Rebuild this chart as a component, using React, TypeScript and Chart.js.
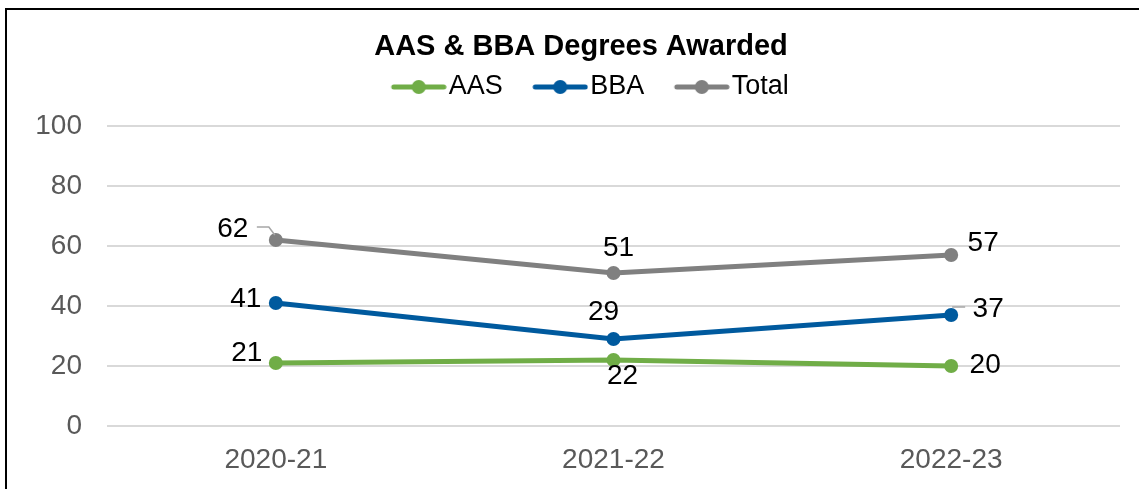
import React, { useEffect, useRef } from "react";
import { Chart, registerables } from "chart.js";

Chart.register(...registerables);

const categories = ["2020-21", "2021-22", "2022-23"];
const aasValues = [21, 22, 20];
const bbaValues = [41, 29, 37];
const totalValues = [62, 51, 57];
const seriesNames = ["AAS", "BBA", "Total"];

const FONT = "'Liberation Sans', Arial, Helvetica, sans-serif";
const COLORS = ["#70AD47", "#005A9E", "#808080"];

// label offsets (dx, dy) relative to each point, per series
const labelOffsets: number[][][] = [
  [[-29, -10], [9, 16], [34, -1]],
  [[-30, -4], [-10, -27], [37, -6]],
  [[-43, -11], [5, -25], [32, -12]],
];
// leader lines: [seriesIndex, pointIndex, relative polyline]
const leaders: [number, number, number[][]][] = [
  [2, 0, [[-19, -13], [-7, -13], [-1, -5]]],
  [1, 2, [[1, -8], [14, -8]]],
];

const LEGEND_BOX = 74;

function makeMarker(color: string) {
  const W = LEGEND_BOX + 23;
  const H = 18;
  const c = document.createElement("canvas");
  c.width = W;
  c.height = H;
  const ctx = c.getContext("2d")!;
  ctx.strokeStyle = color;
  ctx.lineWidth = 5;
  ctx.lineCap = "round";
  ctx.beginPath();
  ctx.moveTo(W - 53, H / 2);
  ctx.lineTo(W - 3, H / 2);
  ctx.stroke();
  ctx.fillStyle = color;
  ctx.beginPath();
  ctx.arc(W - 28, H / 2, 7, 0, Math.PI * 2);
  ctx.fill();
  return c;
}

const labelPlugin = {
  id: "pointLabels",
  afterLayout(chart: any) {
    const t = chart.titleBlock;
    if (t) {
      t.left += 6;
      t.right += 6;
    }
  },
  afterDatasetsDraw(chart: any) {
    const ctx = chart.ctx;
    ctx.save();
    ctx.strokeStyle = "#A6A6A6";
    ctx.lineWidth = 1.5;
    leaders.forEach(([si, pi, pts]) => {
      const el = chart.getDatasetMeta(si).data[pi];
      if (!el) return;
      ctx.beginPath();
      pts.forEach((p, k) => {
        if (k === 0) ctx.moveTo(el.x + p[0], el.y + p[1]);
        else ctx.lineTo(el.x + p[0], el.y + p[1]);
      });
      ctx.stroke();
    });
    ctx.font = `28px ${FONT}`;
    ctx.fillStyle = "#000000";
    ctx.textAlign = "center";
    ctx.textBaseline = "middle";
    chart.data.datasets.forEach((ds: any, si: number) => {
      const meta = chart.getDatasetMeta(si);
      meta.data.forEach((el: any, pi: number) => {
        const off = labelOffsets[si][pi];
        ctx.fillText(String(ds.data[pi]), el.x + off[0], el.y + off[1]);
      });
    });
    ctx.restore();
  },
};

export default function App() {
  const ref = useRef<HTMLCanvasElement | null>(null);

  useEffect(() => {
    if (!ref.current) return;
    const markers = COLORS.map((c) => makeMarker(c));
    const values = [aasValues, bbaValues, totalValues];
    const chart = new Chart(ref.current, {
      type: "line",
      data: {
        labels: categories,
        datasets: seriesNames.map((name, i) => ({
          label: name,
          data: values[i],
          borderColor: COLORS[i],
          backgroundColor: COLORS[i],
          borderWidth: 5,
          pointRadius: 7,
          pointHoverRadius: 7,
          pointBackgroundColor: COLORS[i],
          pointBorderColor: COLORS[i],
          pointBorderWidth: 0,
          tension: 0,
          fill: false,
        })),
      },
      options: {
        animation: false,
        responsive: false,
        layout: { padding: { left: 30, right: 19, top: 0, bottom: 13 } },
        plugins: {
          title: {
            display: true,
            text: "AAS & BBA Degrees Awarded",
            color: "#000000",
            font: { family: FONT, size: 29, weight: "bold", lineHeight: 1.2 },
            padding: { top: 30, bottom: 8.7 },
          },
          subtitle: {
            display: true,
            text: "",
            weight: 500,
            font: { family: FONT, size: 10, lineHeight: 1 },
            padding: { top: 5.5, bottom: 0 },
          },
          legend: {
            display: true,
            position: "top",
            labels: {
              usePointStyle: true,
              pointStyleWidth: LEGEND_BOX,
              padding: 0,
              color: "#000000",
              font: { family: FONT, size: 27 },
              generateLabels: (ch: any) => {
                const items = (Chart as any).defaults.plugins.legend.labels.generateLabels(ch);
                return items.map((it: any, i: number) => ({ ...it, pointStyle: markers[i] }));
              },
            },
          },
          tooltip: { enabled: false },
        },
        scales: {
          x: {
            offset: true,
            grid: { display: false, drawTicks: false },
            border: { display: false },
            ticks: {
              color: "#595959",
              font: { family: FONT, size: 28 },
              padding: 17,
            },
            afterFit: (axis: any) => {
              axis.height = 50;
            },
          },
          y: {
            min: 0,
            max: 100,
            border: { display: false },
            grid: { color: "#D9D9D9", lineWidth: 2, drawTicks: false },
            ticks: {
              stepSize: 20,
              color: "#595959",
              font: { family: FONT, size: 28 },
              padding: 25,
            },
            afterFit: (axis: any) => {
              axis.width = 77;
            },
          },
        },
      },
      plugins: [labelPlugin],
    });
    return () => chart.destroy();
  }, []);

  return (
    <div
      style={{
        position: "fixed",
        left: 0,
        top: 0,
        width: 1139,
        height: 489,
        overflow: "hidden",
        background: "#ffffff",
      }}
    >
      <div
        style={{
          position: "absolute",
          left: 5,
          top: 8,
          width: 1300,
          height: 700,
          borderLeft: "2px solid #000",
          borderTop: "2px solid #000",
          boxSizing: "border-box",
        }}
      />
      <canvas
        ref={ref}
        width={1139}
        height={489}
        style={{ position: "absolute", left: 0, top: 0, width: 1139, height: 489 }}
      />
    </div>
  );
}
